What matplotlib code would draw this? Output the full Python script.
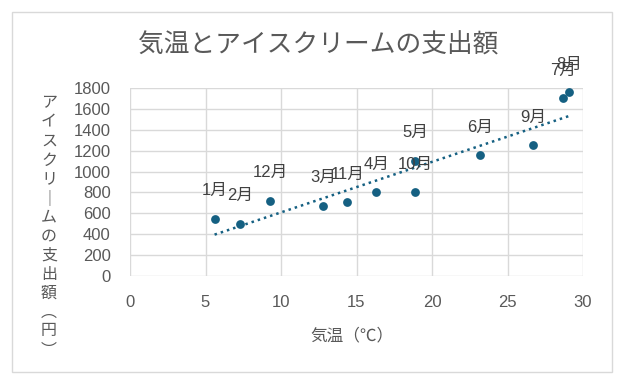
import numpy as np
import matplotlib
matplotlib.use("Agg")
from matplotlib import pyplot as plt
from matplotlib.patches import Rectangle

plt.rcParams['font.family'] = ['Liberation Sans', 'Noto Sans CJK JP']

# data
months = ['1月', '2月', '3月', '4月', '5月', '6月',
          '7月', '8月', '9月', '10月', '11月', '12月']
temps = [5.6, 7.3, 12.8, 16.3, 18.9, 23.2, 28.7, 29.1, 26.7, 18.9, 14.4, 9.3]
spend = [550, 500, 675, 800, 1105, 1155, 1700, 1760, 1250, 800, 705, 720]

title = '気温とアイスクリームの支出額'
xlabel = '気温（℃）'
ylabel_chars = ['ア', 'イ', 'ス', 'ク', 'リ', '｜', 'ム', 'の', '支', '出', '額', '︵', '円', '︶']

blue = '#156082'
grey = '#595959'

W, H = 637, 385
fig = plt.figure(figsize=(W / 100, H / 100), dpi=100, facecolor='w')
ax = fig.add_axes([130 / W, 1 - 276 / H, (583 - 130) / W, (276 - 88) / H])

# chart border
fig.patches.append(Rectangle((12 / W, 1 - 372 / H), 600 / W, 360 / H,
                             transform=fig.transFigure, fill=False,
                             edgecolor='#D9D9D9', linewidth=1))

ax.scatter(temps, spend, s=40, color=blue, zorder=3, linewidths=0)

# linear trend line
k, b = np.polyfit(temps, spend, 1)
xs = np.array([min(temps), max(temps)])
ax.plot(xs, k * xs + b, color=blue, linewidth=1.8, linestyle=(0, (1, 1.6)), zorder=2)

for m, t, s in zip(months, temps, spend):
    ax.annotate(m, xy=(t, s), xytext=(0, 28), textcoords='offset pixels',
                ha='center', va='center', fontsize=12, color='#404040', zorder=4)

ax.set_xlim(0, 30)
ax.set_ylim(0, 1800)
ax.set_xticks(range(0, 31, 5))
ax.set_yticks(range(0, 1801, 200))
ax.grid(True, color='#D9D9D9', linewidth=1)
ax.set_axisbelow(True)
for sp in ax.spines.values():
    sp.set_visible(False)
ax.tick_params(length=0, labelsize=12, labelcolor=grey)
ax.tick_params(axis='x', pad=14)
ax.tick_params(axis='y', pad=14)

fig.text(318 / W, 1 - 45 / H, title, ha='center', va='center', fontsize=18.5, color=grey)
fig.text(352 / W, 1 - 335 / H, xlabel, ha='center', va='center', fontsize=12, color=grey)
for i, ch in enumerate(ylabel_chars):
    fig.text(49 / W, 1 - (103 + 19 * i) / H, ch, ha='center', va='center',
             fontsize=11.5, color=grey)

fig.savefig('out.png', dpi=100)
